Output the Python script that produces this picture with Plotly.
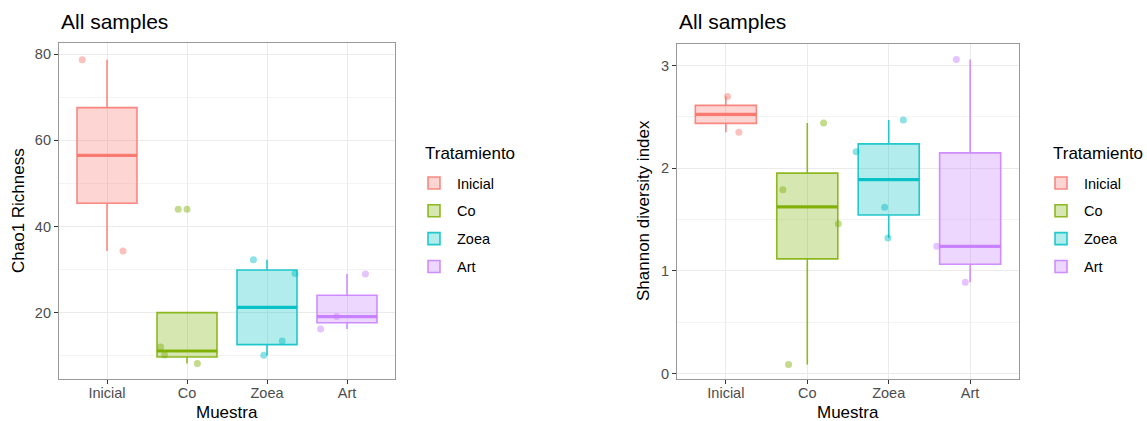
import numpy as np
import plotly.graph_objects as go

# ---------------- data ----------------
groups = ["Inicial", "Co", "Zoea", "Art"]
colors = ["#F8766D", "#7CAE00", "#00BFC4", "#C77CFF"]

chao1_inicial = [78.7, 34.3]
chao1_co = [8.2, 10.2, 12.0, 44.0]
chao1_zoea = [10.1, 13.4, 29.1, 32.3]
chao1_art = [16.2, 19.1, 29.0]

shannon_inicial = [2.35, 2.70]
shannon_co = [0.09, 1.46, 1.79, 2.44]
shannon_zoea = [1.32, 1.62, 2.16, 2.47]
shannon_art = [0.89, 1.24, 3.06]

# jittered horizontal offsets of the sample points (as drawn)
chao1_jitter = [[-0.31, 0.20], [0.13, -0.28, -0.33, -0.11], [-0.04, 0.19, 0.35, -0.17], [-0.33, -0.13, 0.23]]
shannon_jitter = [[0.16, 0.02], [-0.23, 0.38, -0.30, 0.20], [-0.01, -0.05, -0.40, 0.18], [-0.06, -0.41, -0.17]]

chao1 = [chao1_inicial, chao1_co, chao1_zoea, chao1_art]
shannon = [shannon_inicial, shannon_co, shannon_zoea, shannon_art]

W, H = 1147, 421
FONT = "Liberation Sans, Arial, sans-serif"


def rgba(hex_color, a):
    h = hex_color.lstrip("#")
    r, g, b = int(h[0:2], 16), int(h[2:4], 16), int(h[4:6], 16)
    return f"rgba({r},{g},{b},{a})"


def box_stats(vals):
    v = np.array(vals, dtype=float)
    q1, med, q3 = np.percentile(v, [25, 50, 75])
    iqr = q3 - q1
    inside = v[(v >= q1 - 1.5 * iqr) & (v <= q3 + 1.5 * iqr)]
    lo = min(q1, inside.min())
    hi = max(q3, inside.max())
    out = v[(v < q1 - 1.5 * iqr) | (v > q3 + 1.5 * iqr)]
    return q1, med, q3, lo, hi, out


fig = go.Figure()

panels = [
    dict(data=chao1, jit=chao1_jitter, xa="x", ya="y", legend="legend"),
    dict(data=shannon, jit=shannon_jitter, xa="x2", ya="y2", legend="legend2"),
]

for p in panels:
    for i, (g, c) in enumerate(zip(groups, colors)):
        pos = i + 1
        vals = p["data"][i]
        q1, med, q3, lo, hi, out = box_stats(vals)
        fig.add_trace(go.Box(
            x=[pos], q1=[q1], median=[med], q3=[q3], lowerfence=[lo], upperfence=[hi],
            width=0.75, whiskerwidth=0, boxpoints=False,
            fillcolor=rgba(c, 0.3), line=dict(color=rgba(c, 0.85), width=1.6),
            name=g, legendgroup=g + p["legend"], legend=p["legend"],
            xaxis=p["xa"], yaxis=p["ya"], hoverinfo="skip",
        ))
        # thick median line
        fig.add_trace(go.Scatter(
            x=[pos - 0.375, pos + 0.375], y=[med, med], mode="lines",
            line=dict(color=rgba(c, 0.9), width=3.2), showlegend=False,
            xaxis=p["xa"], yaxis=p["ya"], hoverinfo="skip",
        ))
        # outliers drawn by the boxplot
        if len(out):
            fig.add_trace(go.Scatter(
                x=[pos] * len(out), y=list(out), mode="markers",
                marker=dict(color=rgba(c, 0.45), size=7), showlegend=False,
                xaxis=p["xa"], yaxis=p["ya"], hoverinfo="skip",
            ))
        # jittered sample points
        fig.add_trace(go.Scatter(
            x=[pos + d for d in p["jit"][i]], y=vals, mode="markers",
            marker=dict(color=rgba(c, 0.45), size=7), showlegend=False,
            xaxis=p["xa"], yaxis=p["ya"], hoverinfo="skip",
        ))

tickfont = dict(family=FONT, size=14.5, color="#4D4D4D")
titlefont = dict(family=FONT, size=17, color="black")

xcommon = dict(
    range=[0.4, 4.6], tickvals=[1, 2, 3, 4], ticktext=groups, tickfont=tickfont,
    showgrid=True, gridcolor="#EBEBEB", gridwidth=1, zeroline=False,
    showline=True, linecolor="#999999", linewidth=1.2, mirror=True,
    ticks="outside", ticklen=4, tickcolor="#333333", tickwidth=1.2,
    ticklabelstandoff=-4, automargin=False,
)
ycommon = dict(
    tickfont=tickfont, showgrid=True, gridcolor="#EBEBEB", gridwidth=1, zeroline=False,
    showline=True, linecolor="#999999", linewidth=1.2, mirror=True,
    ticks="outside", ticklen=4, tickcolor="#333333", tickwidth=1.2,
    automargin=False,
)

ann = []
for x0, x1, ytitle, ycx in [(59, 395, "Chao1 Richness", 18), (677, 1019, "Shannon diversity index", 643)]:
    ann.append(dict(text="All samples", x=x0 / W, y=(H - 22) / H, xref="paper", yref="paper",
                    xanchor="left", yanchor="middle", showarrow=False,
                    font=dict(family=FONT, size=21, color="black")))
    ann.append(dict(text="Muestra", x=(x0 + x1) / 2 / W, y=(H - 412) / H, xref="paper", yref="paper",
                    xanchor="center", yanchor="middle", showarrow=False, font=titlefont))
    ann.append(dict(text=ytitle, x=ycx / W, y=(H - 211) / H, xref="paper", yref="paper",
                    xanchor="center", yanchor="middle", textangle=-90, showarrow=False, font=titlefont))
for lx in [423, 1051]:
    ann.append(dict(text="Tratamiento", x=lx / W, y=(H - 153) / H, xref="paper", yref="paper",
                    xanchor="left", yanchor="middle", showarrow=False,
                    font=dict(family=FONT, size=17, color="black")))

legcommon = dict(font=dict(family=FONT, size=14.5, color="black"), tracegroupgap=6,
                 itemwidth=36, bgcolor="rgba(0,0,0,0)", xanchor="left", yanchor="top")

fig.update_layout(
    width=W, height=H, autosize=False,
    margin=dict(l=0, r=0, t=0, b=0),
    paper_bgcolor="white", plot_bgcolor="white",
    font=dict(family=FONT),
    xaxis=dict(domain=[59 / W, 395 / W], anchor="y", **xcommon),
    yaxis=dict(domain=[(H - 379) / H, (H - 43) / H], anchor="x", range=[4.6, 82.6],
               tickvals=[20, 40, 60, 80],
               minor=dict(dtick=10, tick0=0, showgrid=True, gridcolor="#F4F4F4", gridwidth=0.6, ticks=""),
               **ycommon),
    xaxis2=dict(domain=[677 / W, 1019 / W], anchor="y2", **xcommon),
    yaxis2=dict(domain=[(H - 379) / H, (H - 44) / H], anchor="x2", range=[-0.052, 3.21],
                tickvals=[0, 1, 2, 3],
                minor=dict(dtick=0.5, tick0=0, showgrid=True, gridcolor="#F4F4F4", gridwidth=0.6, ticks=""),
                **ycommon),
    legend=dict(x=411 / W, y=(H - 167) / H, **legcommon),
    legend2=dict(x=1038 / W, y=(H - 167) / H, **legcommon),
    showlegend=True,
    annotations=ann,
)

fig.write_html("out.html", config={"displayModeBar": False},
               post_script="document.body.style.margin='0px';document.body.style.overflow='hidden';")
